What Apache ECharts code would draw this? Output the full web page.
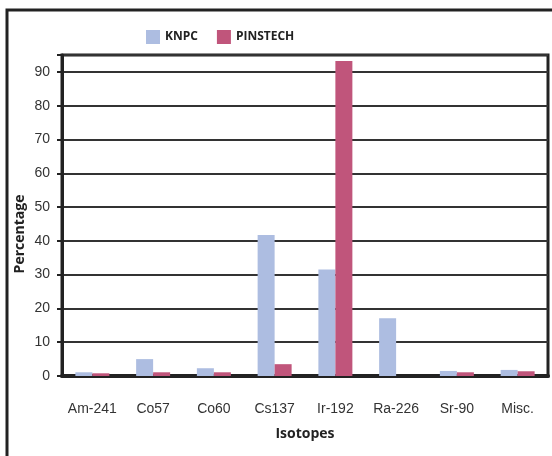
<!DOCTYPE html>
<html><head><meta charset="utf-8">
<script src="https://cdn.jsdelivr.net/npm/echarts@6/dist/echarts.min.js"></script>
<style>html,body{margin:0;padding:0;background:#fff}#c{width:552px;height:456px}</style>
</head><body><div id="c"></div>
<script>
const categories = ['Am-241','Co57','Co60','Cs137','Ir-192','Ra-226','Sr-90','Misc.'];
const knpc = [1.1, 5.0, 2.3, 41.7, 31.5, 17.1, 1.5, 1.8];
const pinstech = [0.8, 1.1, 1.1, 3.5, 93.2, 0, 1.1, 1.4];
const yTicks = [0,10,20,30,40,50,60,70,80,90];

const font = '"Liberation Sans Narrow","Liberation Sans",Arial,sans-serif';
const boldFont = '"Open Sans",Arial,sans-serif';
const chart = echarts.init(document.getElementById('c'), null, {renderer:'canvas'});
chart.setOption({
  animation: false,
  graphic: [
    {type:'rect', shape:{x:7, y:10, width:580, height:480}, style:{fill:'none', stroke:'#222', lineWidth:3}, z:-1},
    {type:'text', x:20, y:234, rotation: Math.PI/2,
     style:{text:'Percentage', fontFamily: boldFont, fontWeight:'bold', fontSize:14, fill:'#222', align:'center', verticalAlign:'middle'}}
  ],
  legend: {
    top: 25, left: 141, itemWidth: 14, itemHeight: 14, itemGap: 19, icon: 'rect',
    textStyle: {fontFamily: boldFont, fontWeight: 'bold', fontSize: 12, color: '#222'},
    data: ['KNPC','PINSTECH']
  },
  grid: {left: 62, right: 4, top: 55, bottom: 80, show: true, borderColor: '#222', borderWidth: 3, containLabel: false},
  xAxis: {
    type: 'category', data: categories,
    axisTick: {show: false},
    axisLine: {lineStyle: {color: '#222', width: 4}},
    axisLabel: {margin: 26, interval: 0, fontFamily: font, fontSize: 14, color: '#333'},
    name: 'Isotopes', nameLocation: 'middle', nameGap: 51,
    nameTextStyle: {fontFamily: boldFont, fontWeight: 'bold', fontSize: 14, color: '#222'}
  },
  yAxis: {
    type: 'value', min: 0, max: 95, interval: 10,
    axisLine: {show: true, lineStyle: {color: '#222', width: 3}},
    axisTick: {show: true, inside: false, length: 5, lineStyle: {color: '#222', width: 2}},
    splitLine: {lineStyle: {color: '#333', width: 2}},
    axisLabel: {margin: 12, fontFamily: font, fontSize: 14, color: '#333',
      formatter: v => yTicks.includes(v) ? String(v) : ''}
  },
  series: [
    {name: 'KNPC', type: 'bar', data: knpc, barWidth: 17, barGap: '0%', itemStyle: {color: '#adbde1'}},
    {name: 'PINSTECH', type: 'bar', data: pinstech, barWidth: 17, barGap: '0%', itemStyle: {color: '#c0557b'}}
  ]
});
</script></body></html>
